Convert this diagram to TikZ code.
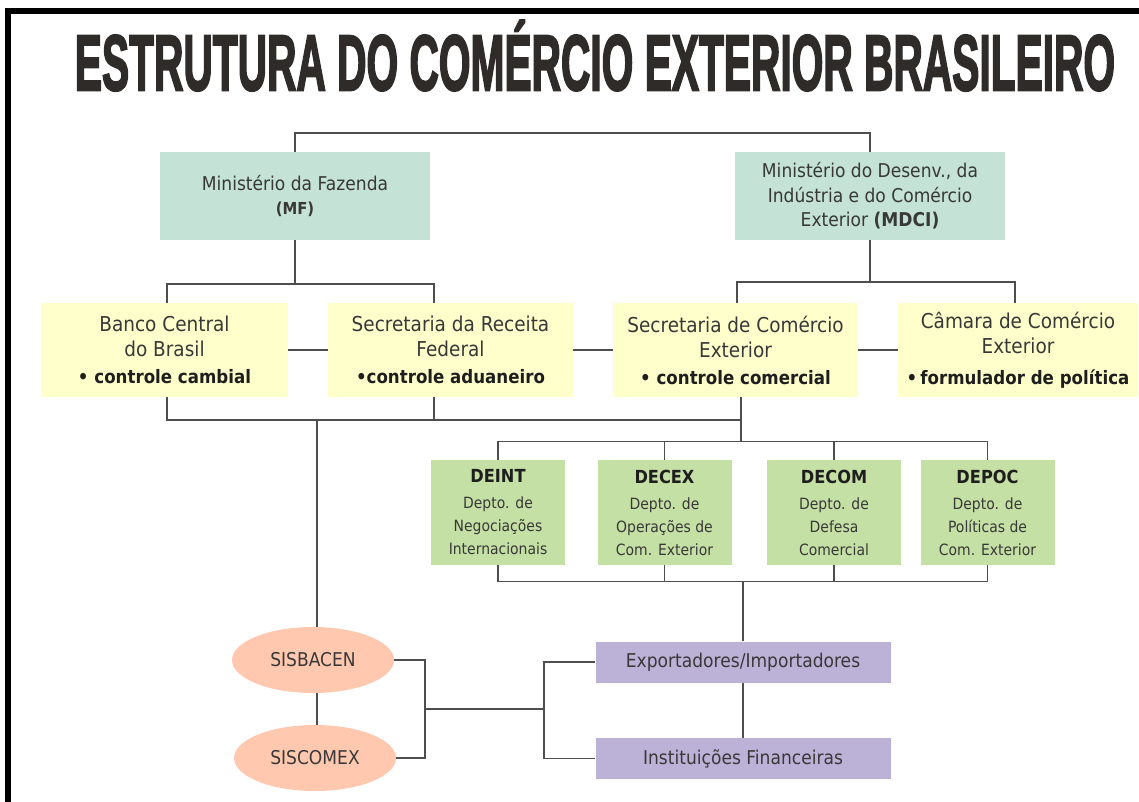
\documentclass[tikz,border=0pt]{standalone}
\usepackage{fontspec}
\setmainfont[FakeStretch=0.9]{DejaVu Sans}
\newfontfamily\titlefont[FakeBold=3]{Liberation Sans Bold}
\usetikzlibrary{shapes.geometric,backgrounds}
\definecolor{tealc}{HTML}{C4E2D5}
\definecolor{yelc}{HTML}{FFFFCC}
\definecolor{greenc}{HTML}{C5E0A5}
\definecolor{salmc}{HTML}{FFC8AF}
\definecolor{lavc}{HTML}{BCB2D7}
\definecolor{linec}{HTML}{4E4E4E}
\definecolor{txtc}{HTML}{383838}
\definecolor{boldc}{HTML}{1E1E1E}
\definecolor{titlec}{HTML}{2E2B29}
\newcommand\bl[1]{{\fontsize{18.5}{25}\selectfont\bfseries\color{boldc}#1}}
\newcommand\dt[1]{{\fontsize{18}{23}\selectfont\bfseries\color{boldc}#1}}
\tikzset{
  basebox/.style={draw=none, inner sep=0pt, align=center, text=txtc},
  tealbox/.style={basebox, fill=tealc, minimum width=270pt, minimum height=87pt,
    font=\fontsize{19}{24.5}\selectfont},
  yelbox/.style={basebox, fill=yelc, minimum height=94pt,
    font=\fontsize{20.5}{25}\selectfont},
  deptbox/.style={basebox, fill=greenc, minimum width=134pt, minimum height=105pt,
    font=\fontsize{15.5}{23}\selectfont},
  lavbox/.style={basebox, fill=lavc, minimum width=295pt, minimum height=41pt,
    font=\fontsize{19}{24}\selectfont},
  ellbox/.style={basebox, ellipse, fill=salmc, minimum width=162pt, minimum height=66pt,
    font=\fontsize{19}{24}\selectfont},
  link/.style={draw=linec, line width=1.8pt},
}
\begin{document}
\begin{tikzpicture}[x=1pt,y=-1pt]
\useasboundingbox (0,0) rectangle (1139,802);
% frame
\fill[black] (5,8) rectangle (1139,14);
\fill[black] (5,8) rectangle (11,802);
% title
\node[inner sep=0pt, text=titlec] (title) at (595,63)
  {\resizebox{1040pt}{55pt}{\titlefont ESTRUTURA DO COM\smash{É}RCIO EXTERIOR BRASILEIRO}};
% ministries
\node[tealbox] (mf) at (295,196) {Ministério da Fazenda\\{\fontsize{16.5}{24.5}\selectfont\bfseries (MF)}};
\node[tealbox] (mdic) at (870,196) {Ministério do Desenv., da\\Indústria e do Comércio\\Exterior {\bfseries(MDCI)}};
% secretariats
\node[yelbox, minimum width=247pt] (bc) at (164.5,350) {Banco Central\\do Brasil\\[2pt]\bl{\textbullet\ controle cambial}};
\node[yelbox, minimum width=245pt] (srf) at (450.5,350) {Secretaria da Receita\\Federal\\[2pt]\bl{\textbullet controle aduaneiro}};
\node[yelbox, minimum width=245pt] (secex) at (735.5,350) {Secretaria de Comércio\\Exterior\\[2pt]\bl{\textbullet\ controle comercial}};
\node[yelbox, minimum width=240pt] (camex) at (1018,350) {Câmara de Comércio\\Exterior\\[6pt]\bl{\textbullet\,formulador de política}};
% departments
\node[deptbox] (deint) at (498,512.5) {\dt{DEINT}\\[3pt]Depto. de\\Negociações\\Internacionais};
\node[deptbox] (decex) at (664.5,512.5) {\dt{DECEX}\\[3pt]Depto. de\\Operações de\\Com. Exterior};
\node[deptbox] (decom) at (834,512.5) {\dt{DECOM}\\[3pt]Depto. de\\Defesa\\Comercial};
\node[deptbox] (depoc) at (987.5,512.5) {\dt{DEPOC}\\[3pt]Depto. de\\Políticas de\\Com. Exterior};
% systems
\node[ellbox] (sisbacen) at (313,660) {SISBACEN};
\node[ellbox] (siscomex) at (315,758) {SISCOMEX};
\node[lavbox] (export) at (743,662) {Exportadores/Importadores};
\node[lavbox] (inst) at (743,758.5) {Instituições Financeiras};
% bus coordinates
\coordinate (ytop) at (0,133);
\coordinate (b1) at (0,284);
\coordinate (b2) at (0,282);
\coordinate (b3) at (0,420);
\coordinate (b4) at (0,441.5);
\coordinate (b5) at (0,581.5);
\coordinate (b6) at (0,709);
\coordinate (c1) at (167,0);
\coordinate (c2) at (434,0);
\coordinate (c3) at (737,0);
\coordinate (c4) at (1015,0);
\coordinate (c5) at (741,0);
\coordinate (c6) at (317,0);
\coordinate (c7) at (425,0);
\coordinate (c8) at (544,0);
\coordinate (mid) at (c7 |- b6);
\begin{scope}[on background layer]
\draw[link] (mf.north) -- (mf.north |- ytop) -- (mdic.north |- ytop) -- (mdic.north);
\draw[link] (mf.south) -- (mf.south |- b1);
\draw[link] (bc.north -| c1) -- (c1 |- b1) -- (c2 |- b1) -- (srf.north -| c2);
\draw[link] (mdic.south) -- (mdic.south |- b2);
\draw[link] (secex.north -| c3) -- (c3 |- b2) -- (c4 |- b2) -- (camex.north -| c4);
\draw[link] (bc.east) -- (srf.west);
\draw[link] (srf.east) -- (secex.west);
\draw[link] (secex.east) -- (camex.west);
\draw[link] (bc.south -| c1) -- (c1 |- b3) -- (c5 |- b3);
\draw[link] (srf.south -| c2) -- (c2 |- b3);
\draw[link] (secex.south -| c5) -- (c5 |- b4);
\draw[link] (sisbacen.north -| c6) -- (c6 |- b3);
\draw[link] (deint.north) -- (deint.north |- b4) -- (depoc.north |- b4) -- (depoc.north);
\draw[link] (decex.north) -- (decex.north |- b4);
\draw[link] (decom.north) -- (decom.north |- b4);
\draw[link] (deint.south) -- (deint.south |- b5) -- (depoc.south |- b5) -- (depoc.south);
\draw[link] (decex.south) -- (decex.south |- b5);
\draw[link] (decom.south) -- (decom.south |- b5);
\draw[link] (export.north) -- (export.north |- b5);
\draw[link] (sisbacen.south -| c6) -- (siscomex.north -| c6);
\draw[link] (sisbacen.east) -- (sisbacen.east -| c7) -- (siscomex.east -| c7) -- (siscomex.east);
\draw[link] (mid) -- (mid -| c8);
\draw[link] (export.west) -- (export.west -| c8) -- (inst.west -| c8) -- (inst.west);
\draw[link] (export.south) -- (inst.north);
\end{scope}
\end{tikzpicture}
\end{document}
